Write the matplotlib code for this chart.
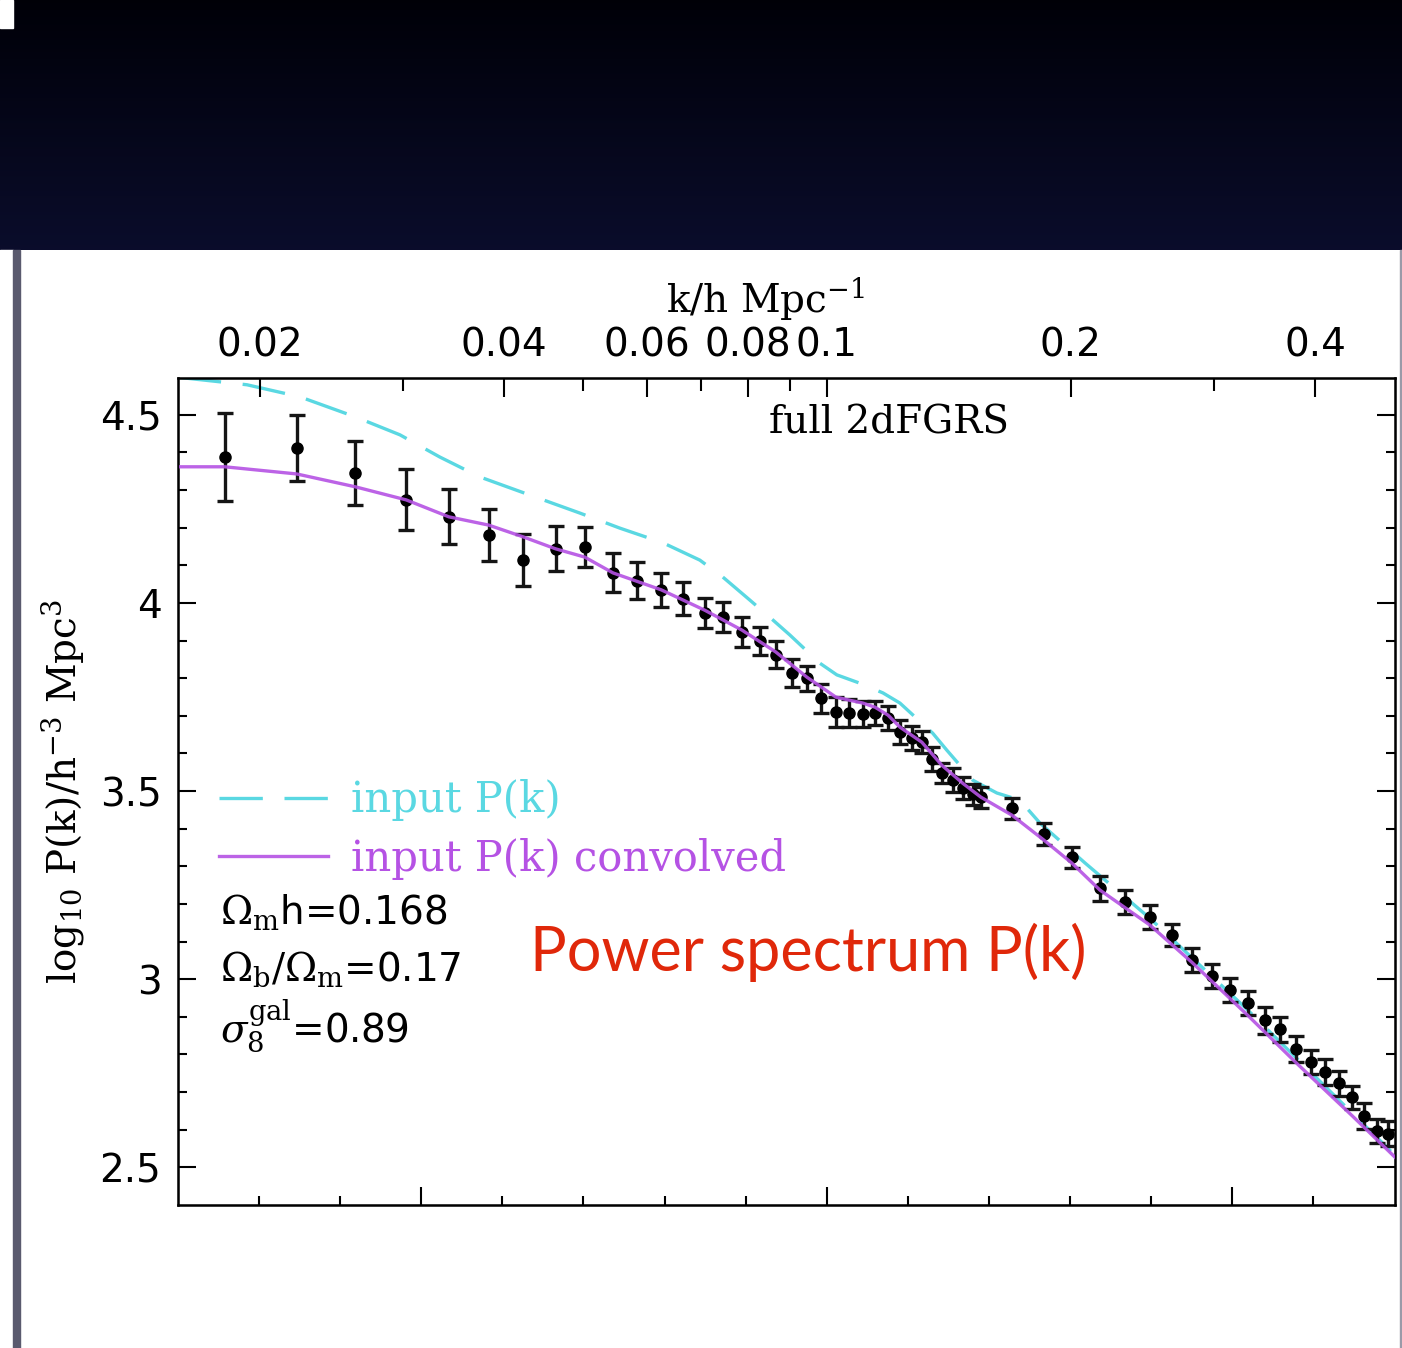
import numpy as np
import matplotlib
matplotlib.use("Agg")
import matplotlib.pyplot as plt
from matplotlib.patches import Rectangle
from matplotlib.ticker import FixedLocator, NullFormatter, FixedFormatter

plt.rcParams["font.family"] = ["DejaVu Sans"]
plt.rcParams["mathtext.fontset"] = "dejavuserif"

# measured band powers (k in h/Mpc, log10 P)
k_data = [0.0181, 0.0222, 0.0262, 0.0303, 0.0342, 0.0383, 0.0422, 0.0463, 0.0503, 0.0545,
          0.0583, 0.0625, 0.0665, 0.0707, 0.0744, 0.0786, 0.0827, 0.0865, 0.0906, 0.0945,
          0.0983, 0.1026, 0.1065, 0.1108, 0.1147, 0.1190, 0.1231, 0.1273, 0.1310, 0.1348,
          0.1386, 0.1430, 0.1471, 0.1514, 0.1549,
          0.1692, 0.1852, 0.2005, 0.2172, 0.2332, 0.2503, 0.2664, 0.2820, 0.2985, 0.3141,
          0.3305, 0.3468, 0.3619, 0.3787, 0.3952, 0.4113, 0.4280, 0.4441, 0.4595, 0.4768, 0.4920]
logP_data = [4.388, 4.412, 4.346, 4.274, 4.229, 4.181, 4.114, 4.144, 4.149, 4.080,
             4.059, 4.035, 4.011, 3.973, 3.963, 3.923, 3.899, 3.862, 3.814, 3.800,
             3.747, 3.710, 3.707, 3.705, 3.707, 3.694, 3.657, 3.641, 3.630, 3.585,
             3.548, 3.529, 3.508, 3.492, 3.484,
             3.455, 3.386, 3.324, 3.242, 3.205, 3.165, 3.117, 3.051, 3.008, 2.971,
             2.936, 2.891, 2.867, 2.814, 2.779, 2.753, 2.723, 2.686, 2.636, 2.596, 2.590]
logP_err = [0.118, 0.087, 0.085, 0.081, 0.073, 0.070, 0.070, 0.060, 0.052, 0.052,
            0.049, 0.045, 0.044, 0.039, 0.040, 0.039, 0.037, 0.036, 0.036, 0.033,
            0.039, 0.039, 0.037, 0.035, 0.032, 0.032, 0.032, 0.032, 0.029, 0.032,
            0.027, 0.032, 0.029, 0.028, 0.028,
            0.028, 0.029, 0.028, 0.033, 0.031, 0.032, 0.029, 0.033, 0.032, 0.032,
            0.032, 0.036, 0.033, 0.035, 0.032, 0.035, 0.032, 0.031, 0.035, 0.032, 0.032]

# model curves
k_conv = [0.01585, 0.0181, 0.0222, 0.0262, 0.0303, 0.0342, 0.0383, 0.0422, 0.0463, 0.0503,
          0.0545, 0.0625, 0.0707, 0.0786, 0.0865, 0.0945, 0.1026, 0.1065, 0.1108, 0.1147,
          0.1190, 0.1231, 0.1310, 0.1386, 0.1471, 0.1549, 0.1692, 0.1852, 0.2005, 0.2172,
          0.2503, 0.2820, 0.3305, 0.3787, 0.4441, 0.502]
logP_conv = [4.362, 4.362, 4.343, 4.309, 4.274, 4.229, 4.207, 4.176, 4.144, 4.122,
             4.080, 4.035, 3.981, 3.928, 3.870, 3.803, 3.750, 3.742, 3.734, 3.723,
             3.702, 3.670, 3.630, 3.569, 3.521, 3.484, 3.436, 3.370, 3.309, 3.237,
             3.144, 3.045, 2.904, 2.779, 2.638, 2.527]

k_input = [0.01585, 0.01928, 0.0224, 0.0262, 0.02976, 0.03333, 0.03735, 0.04303, 0.04961, 0.05557,
           0.0628, 0.06974, 0.07444, 0.08036, 0.0858, 0.09005, 0.09806, 0.1029, 0.1098, 0.1173,
           0.1231, 0.1351, 0.1406, 0.1514, 0.1621, 0.1730, 0.1832, 0.2082, 0.2503, 0.3305, 0.502]
logP_input = [4.600, 4.580, 4.548, 4.495, 4.447, 4.388, 4.335, 4.287, 4.239, 4.199,
              4.160, 4.114, 4.069, 4.008, 3.955, 3.915, 3.840, 3.809, 3.787, 3.761,
              3.734, 3.654, 3.609, 3.529, 3.495, 3.476, 3.415, 3.309, 3.162, 2.918, 2.532]

top_ticks = [0.02, 0.04, 0.06, 0.08, 0.1, 0.2, 0.4]
top_labels = ["0.02", "0.04", "0.06", "0.08", "0.1", "0.2", "0.4"]
top_minor = [0.03, 0.05, 0.07, 0.09, 0.3]

CYAN = "#5ad8e2"
MAGENTA = "#b552e4"

W, H = 1402, 1348
fig = plt.figure(figsize=(W / 100, H / 100), dpi=100)
fig.patch.set_facecolor("white")

# slide background
bg = fig.add_axes([0, 0, 1, 1], zorder=-10)
bg.set_xlim(0, W)
bg.set_ylim(H, 0)
bg.axis("off")
grad = np.linspace(0, 1, 200)[:, None]
cols = np.array([0.0, 0.0, 0.03])[None, None, :] * (1 - grad[..., None]) + \
       np.array([0.04, 0.05, 0.17])[None, None, :] * grad[..., None]
bg.imshow(cols, extent=(0, W, 250, 0), aspect="auto")
bg.add_patch(Rectangle((0, 0), 13, 28, color="white"))
bg.add_patch(Rectangle((0, 250), 13, H - 250, color="white"))
bg.add_patch(Rectangle((13, 250), 7, H - 250, color="#5a5a6e"))
bg.add_patch(Rectangle((1400, 250), 2, H - 250, color="#9a9aa8"))

ax = fig.add_axes([178 / W, 1 - 1205 / H, 1217 / W, 827 / H])
ax.set_xscale("log")
ax.set_xlim(0.01585, 0.502)
ax.set_ylim(2.40, 4.598)

ax.errorbar(k_data, logP_data, yerr=logP_err, fmt="o", color="black", ecolor="#151515",
            ms=8, elinewidth=2.4, capsize=6, capthick=2.4, zorder=3)
ax.plot(k_input, logP_input, color=CYAN, lw=2.4, dashes=(13, 6.5), zorder=2,
        label="input P(k)")
ax.plot(k_conv, logP_conv, color=MAGENTA, lw=2.4, zorder=4, alpha=0.9,
        label="input P(k) convolved")

for s in ax.spines.values():
    s.set_linewidth(1.8)

# bottom: ticks in log10 k, no labels
ax.xaxis.set_major_locator(FixedLocator([10 ** -1.5, 10 ** -1.0, 10 ** -0.5]))
ax.xaxis.set_minor_locator(FixedLocator(10 ** np.arange(-1.7, -0.3, 0.1)))
ax.xaxis.set_major_formatter(NullFormatter())
ax.xaxis.set_minor_formatter(NullFormatter())
ax.yaxis.set_major_locator(FixedLocator([2.5, 3.0, 3.5, 4.0, 4.5]))
ax.yaxis.set_minor_locator(FixedLocator(np.arange(2.5, 4.6, 0.1)))
ax.yaxis.set_major_formatter(FixedFormatter(["2.5", "3", "3.5", "4", "4.5"]))
ax.tick_params(which="both", direction="in", top=False, right=True, width=1.5,
               labelsize=28, pad=12)
ax.tick_params(which="major", length=13)
ax.tick_params(which="minor", length=6.5)

ax.set_ylabel("log$_{10}$ P(k)/h$^{-3}$ Mpc$^{3}$", family="DejaVu Serif",
              fontsize=28, labelpad=10)

ax2 = ax.twiny()
ax2.set_xscale("log")
ax2.set_xlim(ax.get_xlim())
ax2.xaxis.set_major_locator(FixedLocator(top_ticks))
ax2.xaxis.set_major_formatter(FixedFormatter(top_labels))
ax2.xaxis.set_minor_locator(FixedLocator(top_minor))
ax2.xaxis.set_minor_formatter(NullFormatter())
ax2.tick_params(which="both", direction="in", width=1.5, labelsize=28, pad=10)
ax2.tick_params(which="major", length=14)
ax2.tick_params(which="minor", length=9)
ax2.set_xlabel("k/h Mpc$^{-1}$", family="DejaVu Serif", fontsize=28, labelpad=10,
               x=0.483)

ax.text(0.584, 0.946, "full 2dFGRS", transform=ax.transAxes, ha="center", va="center",
        family="DejaVu Serif", fontsize=28)

leg = ax.legend(loc="upper left", bbox_to_anchor=(0.034, 0.515), frameon=False,
                prop={"family": "DejaVu Serif", "size": 30}, handlelength=2.6,
                handletextpad=0.55, labelspacing=0.4, borderaxespad=0, borderpad=0,
                labelcolor="linecolor")

params = [r"$\Omega_\mathrm{m}$h=0.168",
          r"$\Omega_\mathrm{b}/\Omega_\mathrm{m}$=0.17",
          r"$\sigma_8^\mathrm{gal}$=0.89"]
for i, p in enumerate(params):
    ax.text(0.0345, 0.354 - 0.069 * i, p, transform=ax.transAxes, ha="left",
            va="center", fontsize=28)

ax.text(0.518, 0.306, "Power spectrum P(k)", transform=ax.transAxes, ha="center",
        va="center", color="#e0280a", family="Lato", fontsize=44)

fig.savefig("out.png", dpi=100)
